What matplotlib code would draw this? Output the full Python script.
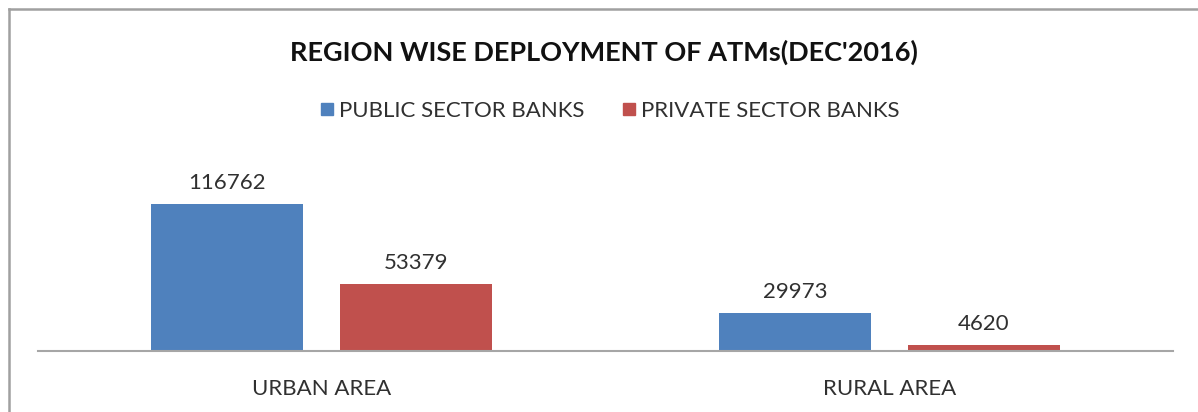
import matplotlib
matplotlib.use('Agg')
import matplotlib.pyplot as plt
import numpy as np
from matplotlib.lines import Line2D

regions = ['URBAN AREA', 'RURAL AREA']
public_banks = [116762, 29973]
private_banks = [53379, 4620]
series_names = ['PUBLIC SECTOR BANKS', 'PRIVATE SECTOR BANKS']
title = "REGION WISE DEPLOYMENT OF ATMs(DEC'2016)"

blue = '#4F81BD'
red = '#C0504D'
font = ['Lato', 'DejaVu Sans']
plt.rcParams['font.family'] = font

fig = plt.figure(figsize=(11.98, 4.12), dpi=100)
W, H = 1198, 412

# axes spans the baseline from x=38 to 1173, bottom at y=351
ax = fig.add_axes([38 / W, 1 - 351 / H, (1173 - 38) / W, (351 - 160) / H])

x = np.arange(len(regions))
bw = 0.268
off = 0.1665
b1 = ax.bar(x - off, public_banks, bw, color=blue)
b2 = ax.bar(x + off, private_banks, bw, color=red)

ax.set_xlim(-0.5, 1.5)
ax.set_ylim(0, 116762 * (351 - 160) / 147)

for bars, vals in [(b1, public_banks), (b2, private_banks)]:
    for rect, v in zip(bars, vals):
        ax.annotate(str(v), (rect.get_x() + rect.get_width() / 2, v),
                    xytext=(0, 8), textcoords='offset points',
                    ha='center', va='bottom', fontsize=16, color='#303030')

for s in ['top', 'right', 'left']:
    ax.spines[s].set_visible(False)
ax.spines['bottom'].set_color('#a6a6a6')
ax.spines['bottom'].set_linewidth(1.5)
ax.set_yticks([])
ax.set_xticks(x)
ax.set_xticklabels(regions, fontsize=16, color='#303030')
ax.tick_params(axis='x', length=0, pad=20)

fig.text(604 / W, 1 - 52 / H, title, ha='center', va='center',
         fontsize=19.5, fontweight='bold', color='#111111')

handles = [Line2D([], [], marker='s', linestyle='none', markersize=9, color=blue),
           Line2D([], [], marker='s', linestyle='none', markersize=9, color=red)]
fig.legend(handles, series_names, loc='center', bbox_to_anchor=(609 / W, 1 - 111 / H),
           ncol=2, frameon=False, fontsize=16, handletextpad=0.15,
           columnspacing=1.6, handlelength=0.8, labelcolor='#303030')

# frame lines along the top and left edges
fig.add_artist(Line2D([9 / W, 9 / W], [0, 1 - 9 / H], color='#a0a0a0', lw=1.8))
fig.add_artist(Line2D([9 / W, 1], [1 - 9 / H, 1 - 9 / H], color='#a0a0a0', lw=1.8))

fig.savefig('out.png', dpi=100)
